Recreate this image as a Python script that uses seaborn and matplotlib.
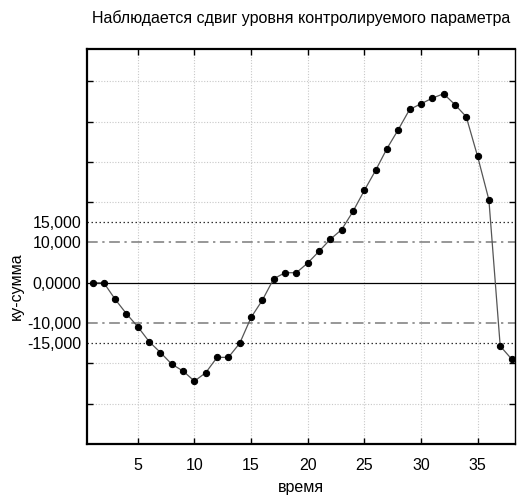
import matplotlib
matplotlib.use('Agg')
import matplotlib.pyplot as plt
import seaborn as sns
import pandas as pd

# time index and cumulative-sum values
time = [1, 2, 3, 4, 5, 6, 7, 8, 9, 10,
        11, 12, 13, 14, 15, 16, 17, 18, 19, 20,
        21, 22, 23, 24, 25, 26, 27, 28, 29, 30,
        31, 32, 33, 34, 35, 36, 37, 38]
cusum = [0.0, 0.0, -4.1, -7.7, -10.9, -14.6, -17.3, -20.2, -21.9, -24.4,
         -22.3, -18.5, -18.5, -15.0, -8.6, -4.3, 1.0, 2.5, 2.5, 4.9,
         7.8, 10.8, 13.2, 17.7, 22.9, 27.9, 33.3, 38.0, 43.0, 44.4,
         45.8, 46.9, 44.2, 41.2, 31.4, 20.6, -15.7, -18.9]

ctrl_values = [15, 10, 0, -10, -15]
ctrl_labels = ['15,000', '10,000', '0,0000', '-10,000', '-15,000']
grid_y = [-30, -20, 20, 30, 40, 50]
x_ticks = [5, 10, 15, 20, 25, 30, 35]

title = 'Наблюдается сдвиг уровня контролируемого параметра'

sns.set_style('white')
plt.rcParams['font.family'] = ['Liberation Sans', 'DejaVu Sans']
plt.rcParams['text.color'] = 'black'
plt.rcParams['axes.labelcolor'] = 'black'
plt.rcParams['xtick.color'] = 'black'
plt.rcParams['ytick.color'] = 'black'

df = pd.DataFrame({'время': time, 'ку-сумма': cusum})

fig = plt.figure(figsize=(5.17, 4.95), dpi=100)
ax = fig.add_axes([0.168, 0.103, 0.828, 0.798])

# background grid
for v in grid_y:
    ax.axhline(v, color='#c8c8c8', lw=0.8, ls=(0, (1, 1.5)), zorder=0)
for v in x_ticks:
    ax.axvline(v, color='#c8c8c8', lw=0.8, ls=(0, (1, 1.5)), zorder=0)

# control limits
ax.axhline(0, color='black', lw=0.9, zorder=1)
for v in (10, -10):
    ax.axhline(v, color='#7a7a7a', lw=1.1, ls=(0, (7, 3, 1.5, 3)), zorder=1)
for v in (15, -15):
    ax.axhline(v, color='#303030', lw=0.9, ls=(0, (1.2, 2)), zorder=1)

sns.lineplot(data=df, x='время', y='ку-сумма', ax=ax, color='#555555', lw=0.9,
             marker='o', markersize=4.5, markerfacecolor='black',
             markeredgecolor='black', zorder=3)

ax.set_xlim(0.5, 38.3)
ax.set_ylim(-40, 58)
ax.set_xticks(x_ticks)
ax.set_yticks(ctrl_values)
ax.set_yticklabels(ctrl_labels)
ax.set_yticks(grid_y, minor=True)

ax.tick_params(axis='x', which='major', direction='in', length=4, width=1,
               top=True, bottom=True, labelsize=11.5, pad=10)
ax.tick_params(axis='y', which='major', length=0, labelsize=11.5, pad=4)
ax.tick_params(axis='y', which='minor', direction='in', length=4, width=1,
               left=True, right=True)

for side in ['left', 'bottom', 'top']:
    ax.spines[side].set_linewidth(1.6)
    ax.spines[side].set_color('black')
ax.spines['right'].set_linewidth(1.0)
ax.spines['right'].set_color('black')

ax.set_title(title, fontsize=11.5, pad=19)
ax.set_xlabel('время', fontsize=11.5)
ax.set_ylabel('ку-сумма', fontsize=11.5)
ax.xaxis.set_label_coords(0.5, -0.09)
ax.yaxis.set_label_coords(-0.148, 0.40)

fig.savefig('out.png', dpi=100)
plt.close(fig)
